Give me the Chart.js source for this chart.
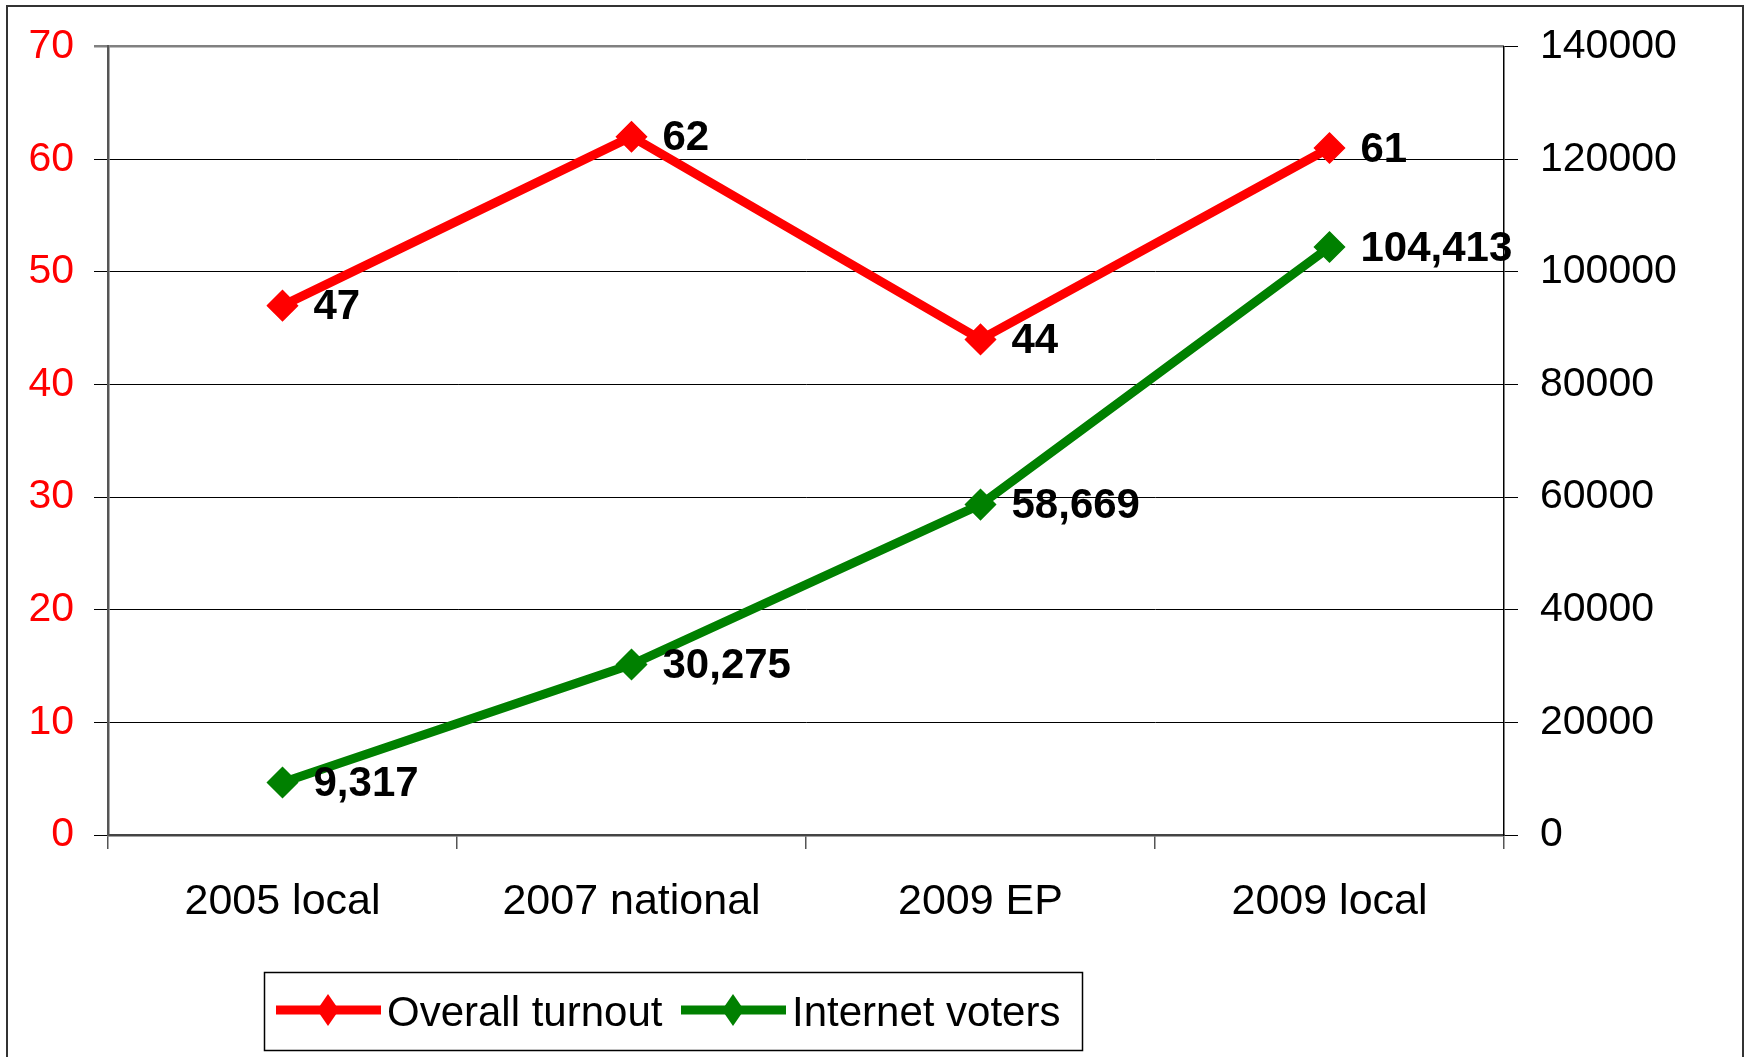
<!DOCTYPE html>
<html>
<head>
<meta charset="utf-8">
<script src="https://cdn.jsdelivr.net/npm/chart.js@4"></script>
<style>
  html, body { margin: 0; padding: 0; background: #fff; overflow: hidden; }
  #wrap { width: 1746px; height: 1057px; position: relative; }
</style>
</head>
<body>
<div id="wrap"><canvas id="c" width="1746" height="1057"></canvas></div>
<script>
const categories = ['2005 local', '2007 national', '2009 EP', '2009 local'];
const turnout = [47, 62, 44, 61];
const internetVoters = [9317, 30275, 58669, 104413];
const leftTicks = [0, 10, 20, 30, 40, 50, 60, 70];
const rightTicks = [0, 20000, 40000, 60000, 80000, 100000, 120000, 140000];
const seriesNames = ['Overall turnout', 'Internet voters'];
const seriesColors = ['#FF0000', '#008000'];

const FONT = "'Liberation Sans', Arial, sans-serif";

const borderPlugin = {
  id: 'outerBorder',
  afterDraw(chart) {
    const ctx = chart.ctx;
    ctx.save();
    ctx.strokeStyle = '#333';
    ctx.lineWidth = 2;
    ctx.beginPath();
    ctx.moveTo(7, 1100);
    ctx.lineTo(7, 6);
    ctx.lineTo(1743, 6);
    ctx.lineTo(1743, 1100);
    ctx.stroke();
    ctx.restore();
  }
};

const labelPlugin = {
  id: 'pointLabels',
  afterDatasetsDraw(chart) {
    const ctx = chart.ctx;
    ctx.save();
    ctx.font = 'bold 42px ' + FONT;
    ctx.fillStyle = '#000';
    ctx.textAlign = 'left';
    ctx.textBaseline = 'middle';
    chart.data.datasets.forEach((ds, i) => {
      const meta = chart.getDatasetMeta(i);
      meta.data.forEach((pt, j) => {
        const v = ds.data[j];
        ctx.fillText(v.toLocaleString('en-US'), pt.x + 31, pt.y + 2);
      });
    });
    ctx.restore();
  }
};

const legendPlugin = {
  id: 'customLegend',
  afterDraw(chart) {
    const ctx = chart.ctx;
    ctx.save();
    ctx.strokeStyle = '#000';
    ctx.lineWidth = 1.5;
    ctx.strokeRect(264.5, 972.5, 818, 78);
    const starts = [276, 681];
    ctx.font = '42px ' + FONT;
    ctx.textBaseline = 'middle';
    ctx.textAlign = 'left';
    chart.data.datasets.forEach((ds, i) => {
      const x0 = starts[i], y = 1010;
      ctx.strokeStyle = ds.borderColor;
      ctx.lineWidth = 9;
      ctx.beginPath();
      ctx.moveTo(x0, y);
      ctx.lineTo(x0 + 105, y);
      ctx.stroke();
      const cx = x0 + 52;
      ctx.fillStyle = ds.borderColor;
      ctx.beginPath();
      ctx.moveTo(cx - 11, y);
      ctx.lineTo(cx, y - 16);
      ctx.lineTo(cx + 11, y);
      ctx.lineTo(cx, y + 16);
      ctx.closePath();
      ctx.fill();
      ctx.fillStyle = '#000';
      ctx.fillText(ds.label, x0 + 111, y + 4);
    });
    ctx.restore();
  }
};

new Chart(document.getElementById('c'), {
  type: 'line',
  data: {
    labels: categories,
    datasets: [
      {
        label: seriesNames[0],
        data: turnout,
        yAxisID: 'y',
        borderColor: seriesColors[0],
        backgroundColor: seriesColors[0],
        borderWidth: 9,
        tension: 0,
        pointStyle: 'rectRot',
        pointRadius: 15,
        pointBorderWidth: 1.5,
        pointBackgroundColor: seriesColors[0],
        pointBorderColor: seriesColors[0]
      },
      {
        label: seriesNames[1],
        data: internetVoters,
        yAxisID: 'y1',
        borderColor: seriesColors[1],
        backgroundColor: seriesColors[1],
        borderWidth: 9,
        tension: 0,
        pointStyle: 'rectRot',
        pointRadius: 15,
        pointBorderWidth: 1.5,
        pointBackgroundColor: seriesColors[1],
        pointBorderColor: seriesColors[1]
      }
    ]
  },
  options: {
    responsive: false,
    animation: false,
    devicePixelRatio: 1,
    layout: { padding: { top: 42, left: 0, right: 0, bottom: 0 } },
    plugins: {
      legend: { display: false },
      tooltip: { enabled: false }
    },
    scales: {
      x: {
        type: 'category',
        offset: true,
        grid: {
          offset: true,
          drawOnChartArea: false,
          drawTicks: true,
          tickLength: 14,
          color: '#555',
          lineWidth: 1.5
        },
        border: { color: '#444', width: 2.5 },
        ticks: {
          color: '#000',
          font: { size: 43, family: FONT },
          padding: 27,
          maxRotation: 0
        },
        afterFit(s) { s.height = 222; }
      },
      y: {
        position: 'left',
        min: leftTicks[0],
        max: leftTicks[leftTicks.length - 1],
        afterBuildTicks(s) { s.ticks = leftTicks.map(v => ({ value: v })); },
        grid: {
          drawTicks: true,
          tickLength: 14,
          color: ctx => (ctx.tick && ctx.tick.value === 70) ? '#808080' : '#000',
          lineWidth: ctx => (ctx.tick && ctx.tick.value === 70) ? 2.5 : 1
        },
        border: { color: '#555', width: 2.5 },
        ticks: {
          color: '#FF0000',
          font: { size: 41, family: FONT },
          padding: 20
        },
        afterFit(s) { s.width = 108; }
      },
      y1: {
        position: 'right',
        min: rightTicks[0],
        max: rightTicks[rightTicks.length - 1],
        afterBuildTicks(s) { s.ticks = rightTicks.map(v => ({ value: v })); },
        grid: {
          drawOnChartArea: false,
          drawTicks: true,
          tickLength: 14,
          color: '#000',
          lineWidth: 1
        },
        border: { color: '#000', width: 1.5 },
        ticks: {
          color: '#000',
          font: { size: 41, family: FONT },
          padding: 22,
          callback: v => String(v)
        },
        afterFit(s) { s.width = 242; }
      }
    }
  },
  plugins: [borderPlugin, labelPlugin, legendPlugin]
});
</script>
</body>
</html>
